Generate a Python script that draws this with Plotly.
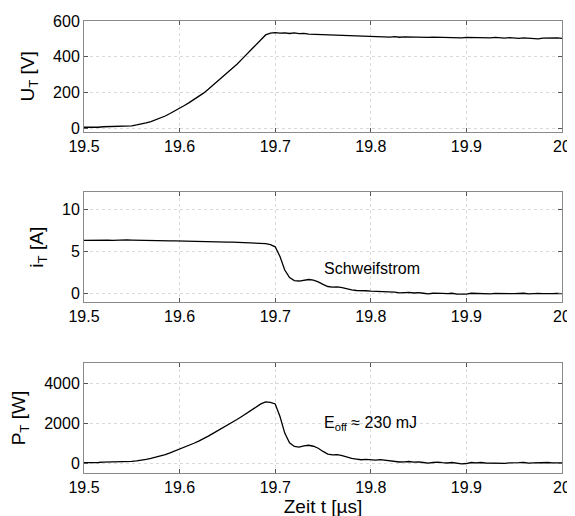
import numpy as np
import plotly.graph_objects as go

t_us = [round(19.5 + 0.005 * k, 3) for k in range(101)]

u_T = [5, 4, 6, 5, 8, 9, 7, 10, 9, 11,
       13, 18, 22, 30, 37, 46, 56, 68, 82, 96,
       110, 127, 143, 160, 177, 196, 218, 241, 264, 286,
       308, 333, 358, 385, 412, 440, 468, 498, 522, 532,
       535, 532, 534, 530, 533, 529, 531, 527, 526, 527,
       523, 524, 521, 522, 519, 520, 517, 518, 514, 516,
       512, 514, 511, 513, 510, 512, 509, 511, 510, 512,
       509, 510, 508, 510, 509, 511, 508, 507, 509, 506,
       508, 507, 509, 506, 507, 505, 508, 506, 504, 507,
       505, 503, 506, 504, 506, 500, 504, 505, 503, 505,
       503]

i_T = [6.30, 6.32, 6.28, 6.33, 6.30, 6.35, 6.32, 6.36, 6.34, 6.37,
       6.35, 6.33, 6.31, 6.30, 6.29, 6.31, 6.27, 6.28, 6.25, 6.26,
       6.24, 6.22, 6.24, 6.20, 6.21, 6.17, 6.18, 6.15, 6.13, 6.14,
       6.10, 6.11, 6.08, 6.06, 6.05, 6.03, 6.00, 5.97, 5.92, 5.80,
       5.55, 4.40, 2.80, 1.90, 1.55, 1.50, 1.62, 1.68, 1.60, 1.40,
       1.10, 0.85, 0.78, 0.80, 0.72, 0.55, 0.45, 0.38, 0.32, 0.35,
       0.30, 0.28, 0.32, 0.25, 0.22, 0.18, 0.10, 0.12, 0.15, 0.08,
       0.12, 0.05, -0.02, 0.05, 0.08, 0.03, 0.00, 0.05, -0.05, -0.08,
       -0.05, 0.05, 0.02, 0.05, 0.00, -0.02, 0.03, 0.00, -0.03, 0.02,
       0.00, 0.03, 0.05, -0.02, 0.02, 0.04, 0.00, 0.05, 0.02, 0.03,
       0.02]

p_T = [20, 15, 30, 25, 45, 50, 40, 60, 55, 70,
       80, 110, 135, 185, 230, 285, 350, 425, 510, 600,
       685, 790, 890, 990, 1095, 1210, 1345, 1485, 1620, 1755,
       1880, 2030, 2180, 2330, 2490, 2650, 2800, 2960, 3060, 3040,
       2960, 2330, 1500, 1010, 830, 800, 860, 890, 840, 740,
       580, 450, 410, 420, 375, 290, 235, 200, 165, 180,
       155, 145, 165, 130, 115, 95, 50, 60, 75, 40,
       60, 25, -10, 25, 40, 15, 0, 25, -25, -40,
       -25, 25, 10, 25, 0, -10, 15, 0, -15, 10,
       0, 15, 25, -10, 10, 20, 0, 25, 10, 15,
       10]

x_ticks = [19.5, 19.6, 19.7, 19.8, 19.9, 20]
x_ticklabels = ["19.5", "19.6", "19.7", "19.8", "19.9", "20"]

FONT = "Liberation Sans, Arial, Helvetica, sans-serif"

fig = go.Figure()
fig.add_trace(go.Scatter(x=t_us, y=u_T, mode="lines", line=dict(color="black", width=1.3),
                         xaxis="x", yaxis="y", showlegend=False))
fig.add_trace(go.Scatter(x=t_us, y=i_T, mode="lines", line=dict(color="black", width=1.3),
                         xaxis="x2", yaxis="y2", showlegend=False))
fig.add_trace(go.Scatter(x=t_us, y=p_T, mode="lines", line=dict(color="black", width=1.3),
                         xaxis="x3", yaxis="y3", showlegend=False))

ax_common = dict(showline=True, linecolor="#8a8a8a", linewidth=1, mirror="ticks",
                 ticks="inside", ticklen=4, tickcolor="#555555",
                 showgrid=True, gridcolor="#dadada", griddash="dot", gridwidth=1,
                 zeroline=False, automargin=False,
                 tickfont=dict(size=16, color="black"))

xa = dict(ax_common, range=[19.5, 20], tickvals=x_ticks, ticktext=x_ticklabels)

fig.update_layout(
    width=575, height=516,
    margin=dict(l=76, r=21, t=13, b=51),
    plot_bgcolor="white", paper_bgcolor="white",
    font=dict(family=FONT, size=16, color="black"),
    xaxis=dict(xa, domain=[0, 1], anchor="y"),
    yaxis=dict(ax_common, domain=[0.755, 1.0], anchor="x", range=[-20, 600],
               tickvals=[0, 200, 400, 600],
               title=dict(text="U<sub>T</sub> [V]", standoff=13)),
    xaxis2=dict(xa, domain=[0, 1], anchor="y2"),
    yaxis2=dict(ax_common, domain=[0.378, 0.621], anchor="x2", range=[-1, 12],
                tickvals=[0, 5, 10],
                title=dict(text="i<sub>T</sub> [A]", standoff=13)),
    xaxis3=dict(xa, domain=[0, 1], anchor="y3",
                title=dict(text="Zeit t [µs]", standoff=4)),
    yaxis3=dict(ax_common, domain=[0.0, 0.243], anchor="x3", range=[-500, 5000],
                tickvals=[0, 2000, 4000],
                title=dict(text="P<sub>T</sub> [W]", standoff=13)),
    annotations=[
        dict(text="Schweifstrom", x=19.801, y=2.94, xref="x2", yref="y2",
             showarrow=False, font=dict(size=16), xanchor="center", yanchor="middle"),
        dict(text="E<sub>off</sub> ≈ 230 mJ", x=19.8, y=2000, xref="x3", yref="y3",
             showarrow=False, font=dict(size=16), xanchor="center", yanchor="middle"),
    ],
)

fig.write_html("out.html")
